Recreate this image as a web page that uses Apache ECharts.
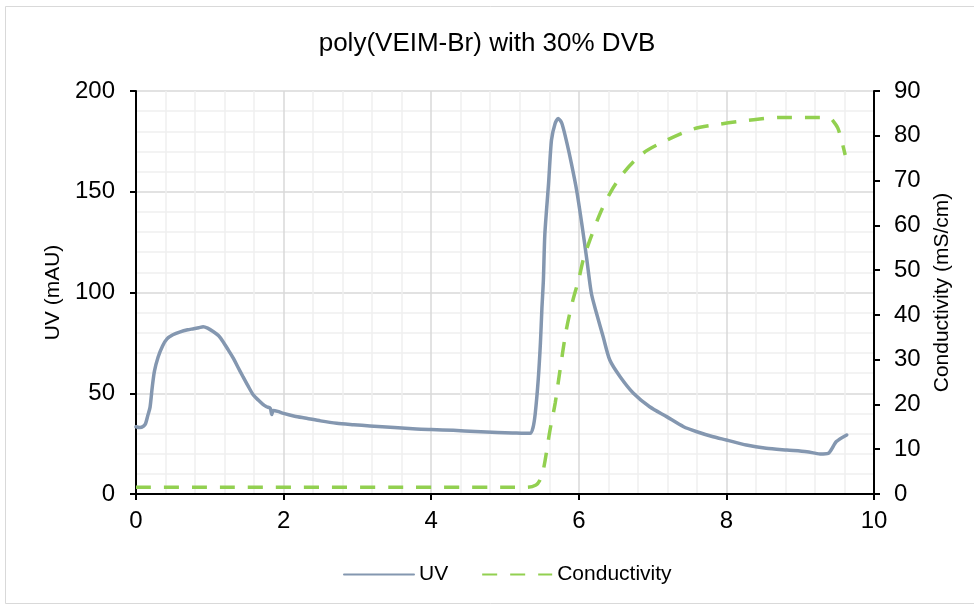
<!DOCTYPE html>
<html>
<head>
<meta charset="utf-8">
<script src="https://cdn.jsdelivr.net/npm/echarts@6/dist/echarts.min.js"></script>
<style>
  html, body { margin: 0; padding: 0; background: #fff; }
  #chart { width: 974px; height: 607px; }
</style>
</head>
<body>
<div id="chart"></div>
<script>
// Chart text
const chartTitle = 'poly(VEIM-Br) with 30% DVB';
const uvName = 'UV';
const condName = 'Conductivity';
const uvAxisName = 'UV (mAU)';
const condAxisName = 'Conductivity (mS/cm)';

// Elution time (x) and UV absorbance (mAU)
const uvTime = [0, 0.05, 0.1, 0.13, 0.16, 0.19, 0.22, 0.25, 0.30, 0.36, 0.42, 0.5, 0.6, 0.7, 0.78, 0.85, 0.91, 0.97, 1.05, 1.12, 1.18, 1.25, 1.32, 1.38, 1.45, 1.52, 1.59, 1.66, 1.72, 1.77, 1.82, 1.84, 1.86, 1.92, 2.0, 2.15, 2.31, 2.5, 2.72, 2.95, 3.17, 3.5, 3.8, 4.0, 4.3, 4.6, 4.9, 5.1, 5.34, 5.38, 5.41, 5.45, 5.48, 5.50, 5.52, 5.54, 5.59, 5.63, 5.68, 5.72, 5.77, 5.84, 5.90, 5.97, 6.04, 6.11, 6.17, 6.24, 6.33, 6.42, 6.56, 6.74, 6.96, 7.19, 7.42, 7.60, 7.82, 8.0, 8.27, 8.54, 8.82, 9.09, 9.27, 9.38, 9.49, 9.63];
const uvValues = [33.4, 33.0, 33.6, 35, 39, 43, 53, 61, 68, 73.5, 77, 79, 80.5, 81.5, 82, 82.5, 83, 82.3, 80.5, 78.5, 75.6, 71.5, 67.3, 63, 58.2, 53.5, 49.1, 46.5, 44.5, 43.3, 42.5, 39.5, 41.5, 41, 40, 38.6, 37.6, 36.3, 35.1, 34.4, 33.8, 33, 32.3, 32, 31.6, 31, 30.5, 30.3, 30.1, 33, 40, 56.6, 75, 92, 106, 129, 154, 175.7, 184, 186.4, 184, 174, 164, 150.9, 134.3, 116, 99.6, 89.7, 78, 66.5, 58.2, 50, 43.3, 38.4, 33.4, 30.9, 28.4, 26.8, 24.3, 22.7, 21.8, 21, 19.9, 20.2, 26, 29.3];

// Elution time (x) and conductivity (mS/cm)
const condTime = [0, 5.3, 5.42, 5.47, 5.52, 5.61, 5.68, 5.74, 5.83, 5.92, 6.0, 6.06, 6.15, 6.29, 6.42, 6.60, 6.87, 7.19, 7.55, 7.91, 8.27, 8.73, 9.18, 9.40, 9.46, 9.51, 9.56, 9.61];
const condValues = [1.5, 1.5, 2.0, 3, 5.4, 14.3, 20.3, 27, 36.6, 43.3, 48, 52.3, 56.7, 62.7, 67.1, 71.6, 76.1, 79, 81.5, 82.6, 83.4, 84.1, 84.1, 84, 83, 81.7, 79, 75.7];

const pair = (xs, ys) => xs.map((x, i) => [x, ys[i]]);

const FONT = '"Liberation Sans", Arial, sans-serif';
const AXIS_COLOR = '#000';

const chart = echarts.init(document.getElementById('chart'), null, { renderer: 'canvas' });

chart.setOption({
  animation: false,
  backgroundColor: '#fff',
  textStyle: { fontFamily: FONT, color: '#000' },
  graphic: [{
    type: 'rect',
    shape: { x: 5.5, y: 6.5, width: 980, height: 597 },
    style: { fill: 'none', stroke: '#d9d9d9', lineWidth: 1 },
    silent: true
  }],
  title: {
    text: chartTitle,
    left: 'center',
    top: 26,
    textStyle: { fontFamily: FONT, fontSize: 26, fontWeight: 'normal', color: '#000' }
  },
  legend: {
    bottom: 17,
    left: 338,
    itemWidth: 70,
    itemHeight: 14,
    itemGap: 33,
    itemStyle: { opacity: 0 },
    textStyle: { fontFamily: FONT, fontSize: 21, color: '#000' },
    data: [uvName, condName]
  },
  grid: { left: 136, right: 100, top: 91, bottom: 113, containLabel: false },
  xAxis: {
    type: 'value',
    min: 0, max: 10, interval: 2,
    axisLine: { lineStyle: { color: AXIS_COLOR, width: 2 } },
    axisTick: { show: true, inside: false, length: 6, lineStyle: { color: AXIS_COLOR, width: 2 } },
    axisLabel: { fontFamily: FONT, fontSize: 24, color: '#000', margin: 15 },
    splitLine: { show: true, lineStyle: { color: '#d9d9d9', width: 1.5 } },
    minorTick: { show: false, splitNumber: 5 },
    minorSplitLine: { show: true, lineStyle: { color: '#efefef', width: 1.5 } }
  },
  yAxis: [{
    type: 'value',
    min: 0, max: 200, interval: 50,
    name: uvAxisName,
    nameLocation: 'middle',
    nameGap: 68,
    nameTextStyle: { fontFamily: FONT, fontSize: 21, color: '#000' },
    axisLine: { show: true, lineStyle: { color: AXIS_COLOR, width: 2 } },
    axisTick: { show: true, inside: false, length: 6, lineStyle: { color: AXIS_COLOR, width: 2 } },
    axisLabel: { fontFamily: FONT, fontSize: 24, color: '#000', margin: 21 },
    splitLine: { show: true, lineStyle: { color: '#d9d9d9', width: 1.5 } },
    minorTick: { show: false, splitNumber: 5 },
    minorSplitLine: { show: true, lineStyle: { color: '#efefef', width: 1.5 } }
  }, {
    type: 'value',
    min: 0, max: 90, interval: 10,
    position: 'right',
    name: condAxisName,
    nameLocation: 'middle',
    nameGap: 58,
    nameRotate: 90,
    nameTextStyle: { fontFamily: FONT, fontSize: 21, color: '#000' },
    axisLine: { show: true, lineStyle: { color: AXIS_COLOR, width: 2 } },
    axisTick: { show: true, inside: false, length: 6, lineStyle: { color: AXIS_COLOR, width: 2 } },
    axisLabel: { fontFamily: FONT, fontSize: 24, color: '#000', margin: 20 },
    splitLine: { show: false }
  }],
  series: [{
    name: uvName,
    type: 'line',
    yAxisIndex: 0,
    data: pair(uvTime, uvValues),
    showSymbol: false,
    symbol: 'none',
    smooth: 0.25,
    lineStyle: { color: '#8497b0', width: 3.5, join: 'round', cap: 'round' },
    itemStyle: { color: '#8497b0' },
    z: 3
  }, {
    name: condName,
    type: 'line',
    yAxisIndex: 1,
    data: pair(condTime, condValues),
    showSymbol: false,
    symbol: 'none',
    smooth: 0.3,
    lineStyle: { color: '#92d050', width: 3.5, type: [15, 13], cap: 'butt' },
    itemStyle: { color: '#92d050' },
    z: 4
  }]
});
</script>
</body>
</html>
